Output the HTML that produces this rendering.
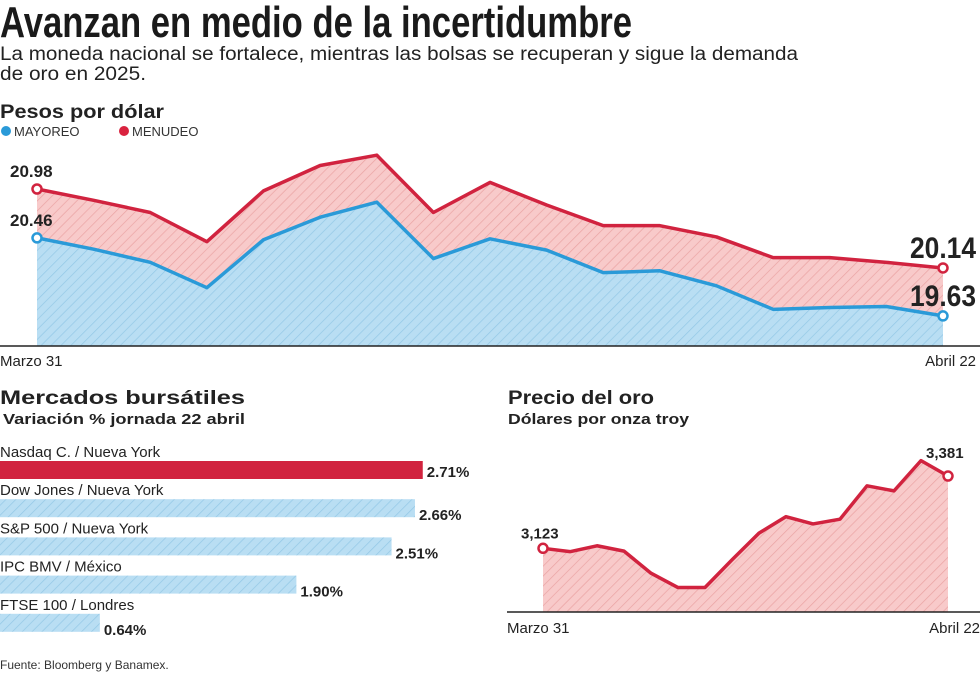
<!DOCTYPE html>
<html><head><meta charset="utf-8"><style>
html,body{margin:0;padding:0;background:#fff;}
svg{display:block;font-family:"Liberation Sans",sans-serif;}
</style></head><body>
<svg id="c" width="980" height="673" viewBox="0 0 980 673" xmlns="http://www.w3.org/2000/svg">
<defs>
<pattern id="hr" width="7" height="7" patternUnits="userSpaceOnUse" patternTransform="rotate(45)">
<rect width="7" height="7" fill="#f8caca"/><line x1="0" y1="0" x2="0" y2="7" stroke="#eaa3a3" stroke-width="1.4"/></pattern>
<pattern id="hb" width="7" height="7" patternUnits="userSpaceOnUse" patternTransform="rotate(45)">
<rect width="7" height="7" fill="#b9def3"/><line x1="0" y1="0" x2="0" y2="7" stroke="#93c8e6" stroke-width="1.4"/></pattern>
</defs>
<text x="0" y="37" font-family="'Liberation Sans Narrow','Liberation Sans',sans-serif" font-weight="bold" font-size="44" textLength="632" lengthAdjust="spacingAndGlyphs" fill="#1a1a1a">Avanzan en medio de la incertidumbre</text>
<text x="0" y="60" font-size="19" textLength="798" lengthAdjust="spacingAndGlyphs" fill="#222">La moneda nacional se fortalece, mientras las bolsas se recuperan y sigue la demanda</text>
<text x="0" y="80" font-size="19" textLength="146" lengthAdjust="spacingAndGlyphs" fill="#222">de oro en 2025.</text>
<text x="0" y="118" font-size="19" font-weight="bold" textLength="164" lengthAdjust="spacingAndGlyphs" fill="#222">Pesos por dólar</text>
<circle cx="6" cy="131" r="5" fill="#2a9ad8"/>
<text x="14" y="136" font-size="13" fill="#333">MAYOREO</text>
<circle cx="124" cy="131" r="5" fill="#d9223f"/>
<text x="132" y="136" font-size="13" fill="#333">MENUDEO</text>
<g id="fx"></g>
<text x="0" y="404" font-size="19" font-weight="bold" textLength="245" lengthAdjust="spacingAndGlyphs" fill="#222">Mercados bursátiles</text>
<text x="3" y="424" font-size="15" font-weight="bold" textLength="242" lengthAdjust="spacingAndGlyphs" fill="#222">Variación % jornada 22 abril</text>
<g id="bars"></g>
<text x="508" y="404" font-size="19" font-weight="bold" textLength="146" lengthAdjust="spacingAndGlyphs" fill="#222">Precio del oro</text>
<text x="508" y="424" font-size="15" font-weight="bold" textLength="181" lengthAdjust="spacingAndGlyphs" fill="#222">Dólares por onza troy</text>
<g id="gold"></g>
<text x="0" y="669" font-size="12" fill="#333">Fuente: Bloomberg y Banamex.</text>
</svg>
<script>
const fxMenudeo=[20.98,20.86,20.73,20.42,20.96,21.23,21.34,20.73,21.05,20.81,20.59,20.59,20.47,20.25,20.25,20.20,20.14];
const fxMayoreo=[20.46,20.34,20.20,19.93,20.44,20.68,20.84,20.24,20.45,20.33,20.09,20.11,19.95,19.70,19.72,19.73,19.63];
const fxLabels=["Marzo 31","Abril 22"];
const stockNames=["Nasdaq C. / Nueva York","Dow Jones / Nueva York","S&P 500 / Nueva York","IPC BMV / México","FTSE 100 / Londres"];
const stockValues=[2.71,2.66,2.51,1.90,0.64];
const goldValues=[3123,3111,3132,3113,3034,2983,2983,3082,3177,3236,3210,3227,3346,3328,3436,3381];
const goldLabels=["Marzo 31","Abril 22"];

const NS="http://www.w3.org/2000/svg";
function mk(p,t,a,txt){const e=document.createElementNS(NS,t);for(const k in a)e.setAttribute(k,a[k]);if(txt!==undefined)e.textContent=txt;p.appendChild(e);return e;}

// FX chart
const fx=document.getElementById('fx');
const fxX=i=>37+i*(943-37)/(fxMenudeo.length-1);
const fxY=v=>189+(20.98-v)*94;
const fxBase=346;
function area(vals,X,Y,base){return 'M'+X(0)+','+base+vals.map((v,i)=>'L'+X(i)+','+Y(v)).join('')+'L'+X(vals.length-1)+','+base+'Z';}
function line(vals,X,Y){return vals.map((v,i)=>(i?'L':'M')+X(i)+','+Y(v)).join('');}
let e;
e=mk(fx,'path',{d:area(fxMenudeo,fxX,fxY,fxBase),fill:'url(#hr)'});


e=mk(fx,'path',{d:area(fxMayoreo,fxX,fxY,fxBase),fill:'url(#hb)'});


e=mk(fx,'path',{d:line(fxMenudeo,fxX,fxY),fill:'none',stroke:'#d1233f','stroke-width':3.5,'stroke-linejoin':'round'});


e=mk(fx,'path',{d:line(fxMayoreo,fxX,fxY),fill:'none',stroke:'#2a9ad8','stroke-width':3.5,'stroke-linejoin':'round'});


mk(fx,'line',{x1:0,x2:980,y1:fxBase,y2:fxBase,stroke:'#222','stroke-width':1.5});
const nL=fxMenudeo.length-1;
[[fxMenudeo,'#d1233f'],[fxMayoreo,'#2a9ad8']].forEach(([arr,c])=>{
 [0,nL].forEach(i=>{e=mk(fx,'circle',{cx:fxX(i),cy:fxY(arr[i]),r:4.5,fill:'#fff',stroke:c,'stroke-width':2.5});
 
 });
});
e=mk(fx,'text',{x:10,y:fxY(fxMenudeo[0])-12,'font-size':17,'font-weight':'bold',fill:'#222'},fxMenudeo[0].toFixed(2));


e=mk(fx,'text',{x:10,y:fxY(fxMayoreo[0])-12,'font-size':17,'font-weight':'bold',fill:'#222'},fxMayoreo[0].toFixed(2));


e=mk(fx,'text',{x:976,y:fxY(fxMenudeo[nL])-10,'font-size':30,'font-weight':'bold','text-anchor':'end',fill:'#222',textLength:66,lengthAdjust:'spacingAndGlyphs'},fxMenudeo[nL].toFixed(2));


e=mk(fx,'text',{x:976,y:fxY(fxMayoreo[nL])-10,'font-size':30,'font-weight':'bold','text-anchor':'end',fill:'#222',textLength:66,lengthAdjust:'spacingAndGlyphs'},fxMayoreo[nL].toFixed(2));


e=mk(fx,'text',{x:0,y:366,'font-size':15,fill:'#222'},fxLabels[0]);


e=mk(fx,'text',{x:976,y:366,'font-size':15,fill:'#222','text-anchor':'end'},fxLabels[1]);



// Bars
const bars=document.getElementById('bars');
const bW=v=>v*156;
stockValues.forEach((v,i)=>{
 const y=461+i*38.2;
 e=mk(bars,'text',{x:0,y:y-4,'font-size':15,fill:'#222'},stockNames[i]);
 
 
 e=mk(bars,'rect',{x:0,y:y,width:bW(v),height:18,fill:i===0?'#d1233f':'url(#hb)'});
 
 
 e=mk(bars,'text',{x:bW(v)+4,y:y+(i===0?16:21),'font-size':15,'font-weight':'bold',fill:'#222'},v.toFixed(2)+'%');
 
 
});

// Gold
const gold=document.getElementById('gold');
const gX=i=>543+i*(948-543)/(goldValues.length-1);
const gY=v=>548.3-(v-3123)/3.57;
const gBase=612;
e=mk(gold,'path',{d:area(goldValues,gX,gY,gBase),fill:'url(#hr)'});


e=mk(gold,'path',{d:line(goldValues,gX,gY),fill:'none',stroke:'#d1233f','stroke-width':3.5,'stroke-linejoin':'round'});


mk(gold,'line',{x1:507,x2:980,y1:gBase,y2:gBase,stroke:'#222','stroke-width':1.5});
const gL=goldValues.length-1;
[0,gL].forEach(i=>{e=mk(gold,'circle',{cx:gX(i),cy:gY(goldValues[i]),r:4.5,fill:'#fff',stroke:'#d1233f','stroke-width':2.5});
 
 });
const fmt=v=>v.toLocaleString('en-US');
e=mk(gold,'text',{x:521,y:gY(goldValues[0])-10,'font-size':15,'font-weight':'bold',fill:'#222'},fmt(goldValues[0]));


e=mk(gold,'text',{x:926,y:gY(goldValues[gL])-18,'font-size':15,'font-weight':'bold',fill:'#222'},fmt(goldValues[gL]));


e=mk(gold,'text',{x:507,y:633,'font-size':15,fill:'#222'},goldLabels[0]);


e=mk(gold,'text',{x:980,y:633,'font-size':15,fill:'#222','text-anchor':'end'},goldLabels[1]);


</script>
</body></html>
